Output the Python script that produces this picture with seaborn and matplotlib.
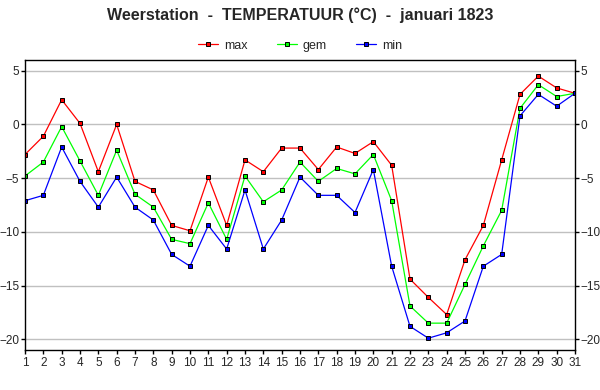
import seaborn as sns
import matplotlib.pyplot as plt
import pandas as pd

# Daggegevens januari 1823
dagen = list(range(1, 32))
t_max = [-2.8, -1.1, 2.3, 0.1, -4.4, 0.0, -5.3, -6.1, -9.4, -9.9, -4.9, -9.4, -3.3, -4.4, -2.2, -2.2,
         -4.2, -2.1, -2.7, -1.6, -3.8, -14.4, -16.1, -17.7, -12.6, -9.4, -3.3, 2.8, 4.5, 3.4, 2.9]
t_gem = [-4.8, -3.5, -0.2, -3.4, -6.6, -2.4, -6.5, -7.7, -10.7, -11.1, -7.3, -10.7, -4.8, -7.2, -6.1, -3.5,
         -5.3, -4.1, -4.6, -2.8, -7.1, -16.9, -18.5, -18.5, -14.9, -11.3, -8.0, 1.5, 3.7, 2.6, 2.9]
t_min = [-7.1, -6.6, -2.1, -5.3, -7.7, -4.9, -7.7, -8.9, -12.1, -13.2, -9.4, -11.6, -6.1, -11.6, -8.9, -4.9,
         -6.6, -6.6, -8.2, -4.2, -13.2, -18.8, -19.9, -19.4, -18.3, -13.2, -12.1, 0.8, 2.8, 1.7, 2.9]
y_ticks = [5, 0, -5, -10, -15, -20]

df = pd.DataFrame({"dag": dagen * 3,
                   "temp": t_max + t_gem + t_min,
                   "reeks": ["max"] * 31 + ["gem"] * 31 + ["min"] * 31})

sns.set_style("white")
plt.rcParams["font.family"] = ["Liberation Sans", "DejaVu Sans"]

fig = plt.figure(figsize=(6, 3.9), dpi=100)
ax = fig.add_axes([25 / 600, 40 / 390, 550 / 600, 290 / 390])

kleuren = {"max": "#ff0000", "gem": "#00ff00", "min": "#0000ff"}
sns.lineplot(data=df, x="dag", y="temp", hue="reeks", palette=kleuren, marker="s",
             markersize=3, markeredgecolor="black", markeredgewidth=0.7, linewidth=0.9,
             ax=ax, legend=True)

ax.set_xlim(1, 31)
ax.set_ylim(-21, 6)
ax.set_xticks(dagen)
ax.set_yticks(y_ticks)
ax.set_xlabel("")
ax.set_ylabel("")
ax.grid(axis="y", color="#c0c0c0", linewidth=1)
ax.grid(axis="x", visible=False)
ax.tick_params(axis="both", labelsize=8.5, length=3, width=1, color="black", direction="out",
               pad=1, left=True, bottom=True, right=True, labelright=True)
ax.tick_params(axis="x", pad=2)
for s in ax.spines.values():
    s.set_color("black")
    s.set_linewidth(1)

fig.suptitle("Weerstation  -  TEMPERATUUR (°C)  -  januari 1823", fontsize=11.5,
             fontweight="bold", y=0.98)
leg = ax.legend(loc="lower center", bbox_to_anchor=(0.5, 0.99), ncol=3, frameon=False,
                fontsize=9, handlelength=1.6, columnspacing=2.3, handletextpad=0.5)
for h in leg.legend_handles:
    h.set_markersize(3)

fig.savefig("out.png", dpi=100)
